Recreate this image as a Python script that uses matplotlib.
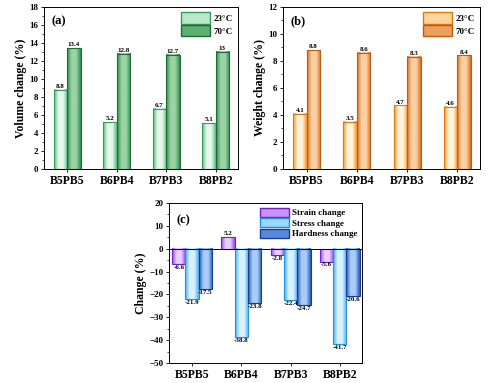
import numpy as np
import matplotlib
matplotlib.use("Agg")
import matplotlib.pyplot as plt
from matplotlib.colors import LinearSegmentedColormap
from matplotlib.patches import Patch
from matplotlib.ticker import MultipleLocator

plt.rcParams["font.family"] = "Liberation Serif"
plt.rcParams["font.weight"] = "bold"

samples = ["B5PB5", "B6PB4", "B7PB3", "B8PB2"]

vol_23 = [8.8, 5.2, 6.7, 5.1]
vol_70 = [13.4, 12.8, 12.7, 13.0]
vol_lbl_23 = ["8.8", "5.2", "6.7", "5.1"]
vol_lbl_70 = ["13.4", "12.8", "12.7", "13"]

wt_23 = [4.1, 3.5, 4.7, 4.6]
wt_70 = [8.8, 8.6, 8.3, 8.4]

strain = [-6.6, 5.2, -2.8, -5.6]
stress = [-21.9, -38.8, -22.4, -41.7]
hardness = [-17.5, -23.8, -24.7, -20.6]


def grad_bars(ax, x, vals, width, edge, mid, line):
    cmap = LinearSegmentedColormap.from_list("g", [edge, mid, mid, edge])
    bars = ax.bar(x, vals, width, facecolor="none", edgecolor=line, linewidth=0.8, zorder=3)
    for b in bars:
        x0, y0 = b.get_x(), b.get_y()
        w, h = b.get_width(), b.get_height()
        ax.imshow(np.linspace(0, 1, 64).reshape(1, -1), cmap=cmap,
                  extent=[x0, x0 + w, y0, y0 + h], aspect="auto", zorder=2)
    return bars


def value_labels(ax, x, vals, texts, off):
    for xi, v, t in zip(x, vals, texts):
        if v >= 0:
            ax.text(xi, v + off, t, ha="center", va="bottom", fontsize=5, fontweight="bold")
        else:
            ax.text(xi, v - off, t, ha="center", va="top", fontsize=5, fontweight="bold")


def style(ax, ylabel, ymin, ymax, major, minor, xlim):
    ax.set_xlim(*xlim)
    ax.set_ylim(ymin, ymax)
    ax.yaxis.set_major_locator(MultipleLocator(major))
    ax.yaxis.set_minor_locator(MultipleLocator(minor))
    ax.set_xticks(range(len(samples)))
    ax.set_xticklabels(samples, fontsize=8.5, fontweight="bold")
    ax.tick_params(axis="y", labelsize=6.5, length=2.5, width=0.6, pad=1.5)
    ax.tick_params(axis="y", which="minor", length=1.5, width=0.5)
    ax.tick_params(axis="x", length=2.5, width=0.6, pad=2)
    ax.set_ylabel(ylabel, fontsize=8.5, fontweight="bold", labelpad=2)
    for s in ax.spines.values():
        s.set_linewidth(0.7)


fig = plt.figure(figsize=(5.0, 3.83), dpi=100)
x = np.arange(len(samples))
w = 0.27

# (a) volume change
ax1 = fig.add_axes([0.088, 0.559, 0.388, 0.423])
grad_bars(ax1, x - w / 2, vol_23, w, "#5cc080", "#e6f8ec", "#3a9a5c")
grad_bars(ax1, x + w / 2, vol_70, w, "#2f8a4a", "#9ad4a4", "#1f6a36")
value_labels(ax1, x - w / 2, vol_23, vol_lbl_23, 0.1)
value_labels(ax1, x + w / 2, vol_70, vol_lbl_70, 0.1)
style(ax1, "Volume change (%)", 0, 18, 2, 1, (-0.47, 3.45))
ax1.text(0.04, 0.95, "(a)", transform=ax1.transAxes, fontsize=9, fontweight="bold", va="top")
ax1.legend([Patch(facecolor="#b8e8c8", edgecolor="#3a9a5c"), Patch(facecolor="#5eb070", edgecolor="#1f6a36")],
           ["23°C", "70°C"], loc="upper right", fontsize=6.5, frameon=False,
           handlelength=3.2, handleheight=1.6, borderaxespad=0.2, labelspacing=0.1, handletextpad=0.4)

# (b) weight change
ax2 = fig.add_axes([0.566, 0.559, 0.394, 0.423])
grad_bars(ax2, x - w / 2, wt_23, w, "#f39a30", "#fff4dc", "#e07810")
grad_bars(ax2, x + w / 2, wt_70, w, "#dc7020", "#fad0a4", "#c05a10")
value_labels(ax2, x - w / 2, wt_23, [str(v) for v in wt_23], 0.07)
value_labels(ax2, x + w / 2, wt_70, [str(v) for v in wt_70], 0.07)
style(ax2, "Weight change (%)", 0, 12, 2, 1, (-0.47, 3.45))
ax2.text(0.04, 0.95, "(b)", transform=ax2.transAxes, fontsize=9, fontweight="bold", va="top")
ax2.legend([Patch(facecolor="#fcd49c", edgecolor="#e07810"), Patch(facecolor="#eca060", edgecolor="#c05a10")],
           ["23°C", "70°C"], loc="upper right", fontsize=6.5, frameon=False,
           handlelength=3.2, handleheight=1.6, borderaxespad=0.2, labelspacing=0.1, handletextpad=0.4)

# (c) mechanical changes
ax3 = fig.add_axes([0.338, 0.052, 0.386, 0.418])
grad_bars(ax3, x - w, strain, w, "#9a48f0", "#e8d0ff", "#7020d0")
grad_bars(ax3, x, stress, w, "#48b0f0", "#d8f2ff", "#2090e0")
grad_bars(ax3, x + w, hardness, w, "#2858b8", "#a8ccf8", "#1a3a98")
value_labels(ax3, x - w, strain, [str(v) for v in strain], 0.4)
value_labels(ax3, x, stress, [str(v) for v in stress], 0.4)
value_labels(ax3, x + w, hardness, [str(v) for v in hardness], 0.4)
ax3.axhline(0, color="black", linewidth=0.7, zorder=4)
style(ax3, "Change (%)", -50, 20, 10, 5, (-0.47, 3.45))
ax3.text(0.04, 0.93, "(c)", transform=ax3.transAxes, fontsize=9, fontweight="bold", va="top")
ax3.legend([Patch(facecolor="#c890f8", edgecolor="#7020d0"),
            Patch(facecolor="#98d8fa", edgecolor="#2090e0"),
            Patch(facecolor="#5888d8", edgecolor="#1a3a98")],
           ["Strain change", "Stress change", "Hardness change"], loc="upper right",
           fontsize=6.5, frameon=False, handlelength=3.2, handleheight=1.2,
           borderaxespad=0.1, labelspacing=0.1, handletextpad=0.4)

fig.savefig("out.png", dpi=100)
